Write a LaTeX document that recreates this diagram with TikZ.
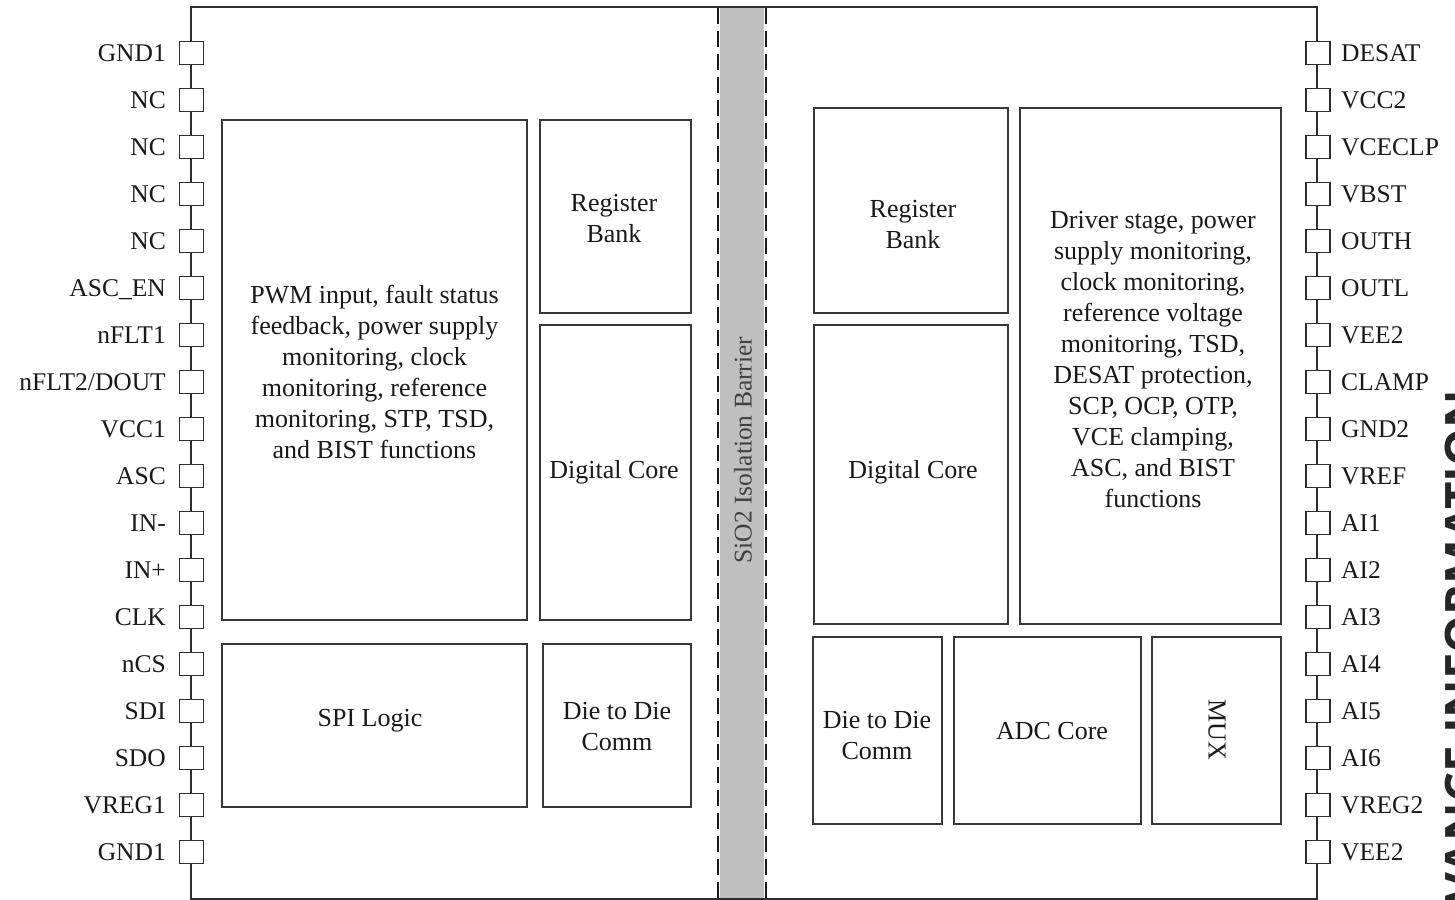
\documentclass[tikz,border=0pt]{standalone}
\usepackage{fontspec}
\setmainfont{Liberation Serif}
\newfontfamily\wmfont{Open Sans}
\tikzset{
  txt/.style={font=\fontsize{25.5}{31}\selectfont, inner sep=0pt, text=black!90},
  btxt/.style={font=\fontsize{26}{31}\selectfont, inner sep=0pt, text=black!90, align=center},
  blk/.style={draw=black!78, line width=1.8pt, inner sep=0pt},
  pinbox/.style={draw=black!82, fill=white, line width=1.8pt, inner sep=0pt,
    minimum width=24pt, minimum height=23pt},
  pinlbl/.style={txt, text height=17pt, text depth=0pt},
  barline/.style={draw=black!90, line width=1.8pt, dash pattern=on 16pt off 7pt},
  outline/.style={draw=black!82, line width=1.8pt}
}
\newcommand\blkbox[5]{%
  \node[blk, minimum width={#4-#2}, minimum height={#5-#3}] (#1) at ({(#2+#4)/2},{(#3+#5)/2}) {};}
\begin{document}
\begin{tikzpicture}[x=1pt,y=-1pt]
\useasboundingbox (0,0) rectangle (1455,899);
% package outline
\coordinate (oTL) at (191,7);
\coordinate (oTR) at (1317,7);
\coordinate (oBL) at (191,899);
\coordinate (oBR) at (1317,899);
\draw[outline] (oBL) -- (oTL) -- (oTR) -- (oBR) -- cycle;
% isolation barrier
\fill[black!25] (720,8) rectangle (764,898);
\coordinate (bL1) at (718,8); \coordinate (bL2) at (718,898);
\coordinate (bR1) at (766,8); \coordinate (bR2) at (766,898);
\draw[barline] (bL1) -- (bL2);
\draw[barline] (bR1) -- (bR2);
\node[txt, rotate=90, text=black!75] (sio2) at (743,450) {SiO2 Isolation Barrier};
% left pins
\foreach \l [count=\i from 0] in {GND1,NC,NC,NC,NC,ASC\_EN,nFLT1,{nFLT2/DOUT},VCC1,ASC,IN-,IN+,CLK,nCS,SDI,SDO,VREG1,GND1}{
  \node[pinbox] (pL\i) at (191.5,{53+47*\i}) {};
  \node[pinlbl, anchor=east] (lL\i) at (166,{53+47*\i}) {\l};
}
% right pins
\foreach \l [count=\i from 0] in {DESAT,VCC2,VCECLP,VBST,OUTH,OUTL,VEE2,CLAMP,GND2,VREF,AI1,AI2,AI3,AI4,AI5,AI6,VREG2,VEE2}{
  \node[pinbox] (pR\i) at (1318,{53+47*\i}) {};
  \node[pinlbl, anchor=west] (lR\i) at (1341,{53+47*\i}) {\l};
}
% left die blocks
\blkbox{pwm}{222}{120}{527}{620}
\node[btxt] (pwmT) at (374.5,372) {PWM input, fault status\\feedback, power supply\\monitoring, clock\\monitoring, reference\\monitoring, STP, TSD,\\and BIST functions};
\blkbox{regL}{540}{120}{691}{313}
\node[btxt] (regLT) at (614,219) {Register\\Bank};
\blkbox{dcL}{540}{325}{691}{620}
\node[btxt] (dcLT) at (614,472) {Digital Core};
\blkbox{spi}{222}{644}{527}{807}
\node[btxt] (spiT) at (370,721) {SPI Logic};
\blkbox{d2dL}{543}{644}{691}{807}
\node[btxt] (d2dLT) at (617,727) {Die to Die\\Comm};
% right die blocks
\blkbox{regR}{814}{108}{1008}{313}
\node[btxt] (regRT) at (913,225) {Register\\Bank};
\blkbox{drv}{1020}{108}{1281}{624}
\node[btxt] (drvT) at (1153,360) {Driver stage, power\\supply monitoring,\\clock monitoring,\\reference voltage\\monitoring, TSD,\\DESAT protection,\\SCP, OCP, OTP,\\VCE clamping,\\ASC, and BIST\\functions};
\blkbox{dcR}{814}{325}{1008}{624}
\node[btxt] (dcRT) at (913,472) {Digital Core};
\blkbox{d2dR}{813}{637}{942}{824}
\node[btxt] (d2dRT) at (877,736) {Die to Die\\Comm};
\blkbox{adc}{954}{637}{1141}{824}
\node[btxt] (adcT) at (1052,731) {ADC Core};
\blkbox{mux}{1152}{637}{1281}{824}
\node[btxt, rotate=-90] (muxT) at (1217,730) {MUX};
% cut-off watermark
\begin{scope}
\clip (0,0) rectangle (1455,899);
\node[rotate=90, anchor=north east, inner sep=0pt, text=black!85,
  font=\wmfont\bfseries\fontsize{47.5}{48}\selectfont] (wm) at (1445,390) {ADVANCE INFORMATION};
\end{scope}
\end{tikzpicture}
\end{document}
